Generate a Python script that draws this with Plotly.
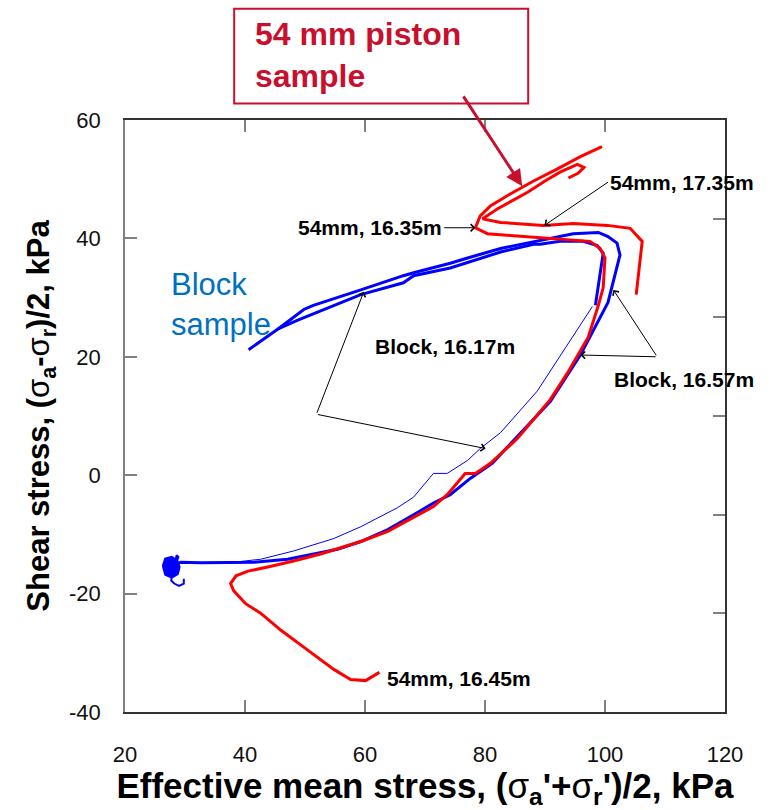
import plotly.graph_objects as go

# ---------------- data ----------------
# 54 mm piston sample, 16.45 m path (continues round the 16.35 m loop)
red_a_x = [62.4, 60.1, 57.6, 54.8, 50.4, 46.0, 42.6, 40.1, 38.1, 37.6, 38.5, 40.5, 43.8, 48.1,
           52.6, 59.3, 63.8, 68.1, 71.4, 73.7, 76.7, 78.4, 80.9, 85.4, 90.9, 93.7, 97.2, 98.9,
           99.7, 100.0, 99.2, 97.5, 94.7, 89.7, 84.2, 80.4, 78.4, 79.2, 80.9, 84.2, 88.1, 92.0,
           95.9, 99.5]
red_a_y = [-33.3, -34.7, -34.5, -32.8, -29.5, -26.2, -23.3, -21.7, -19.5, -18.3, -17.0, -16.2,
           -15.5, -14.5, -13.3, -11.2, -9.5, -7.2, -5.3, -3.3, 0.3, 0.3, 2.0, 6.2, 12.8, 17.2,
           23.3, 28.7, 31.7, 36.7, 38.3, 39.5, 39.7, 40.0, 40.5, 40.8, 41.8, 43.8, 45.5, 47.5,
           49.7, 51.7, 53.8, 55.5]

# 54 mm piston sample, 17.35 m path
red_b_x = [105.2, 106.2, 104.2, 100.4, 94.7, 89.7, 82.6, 79.6, 82.1, 87.1, 90.0, 92.5, 95.4,
           96.5, 95.5, 93.9]
red_b_y = [30.5, 39.5, 41.7, 42.2, 42.5, 42.2, 42.7, 43.3, 45.0, 47.8, 49.7, 51.2, 52.5,
           52.0, 51.0, 50.2]

# Block sample, 16.57 m (thick path)
blue_a_x = [28.6, 29.3, 32.6, 35.5, 38.1, 41.5, 47.1, 51.4, 55.4, 59.3, 63.8, 68.1, 71.4, 74.2,
            77.6, 81.2, 84.7, 90.9, 95.9, 99.5, 100.5, 102.5, 102.0, 100.5, 98.9, 94.7, 89.2,
            82.6, 77.1, 74.2, 68.1, 66.4, 59.3, 51.4, 49.8, 45.5, 40.6]
blue_a_y = [-15.0, -14.7, -14.8, -14.8, -14.7, -14.7, -14.2, -13.3, -12.5, -11.2, -9.2, -6.7,
            -4.7, -3.3, -0.5, 2.0, 5.8, 12.5, 20.3, 27.2, 29.2, 37.2, 39.2, 40.3, 41.0, 40.8,
            39.7, 38.3, 36.7, 35.8, 34.2, 33.7, 31.3, 28.7, 28.0, 24.7, 21.2]

# Block sample, 16.17 m (thin lower part, then thick upper part)
blue_b_thin_x = [38.1, 42.6, 48.1, 54.8, 59.3, 65.4, 68.1, 71.4, 73.7, 77.1, 79.2, 82.6, 88.7, 97.9]
blue_b_thin_y = [-14.7, -14.2, -12.8, -10.7, -8.7, -5.5, -3.7, 0.3, 0.3, 2.5, 4.5, 7.2, 14.2, 28.5]
blue_b_x = [98.4, 99.7, 98.7, 96.4, 92.5, 89.2, 88.1, 82.6, 74.2, 68.1, 66.4, 59.3, 48.8, 45.5]
blue_b_y = [28.7, 37.5, 38.8, 39.5, 39.5, 39.0, 39.0, 37.7, 35.0, 33.7, 32.5, 30.5, 26.2, 24.7]

# scribble at the start of the block tests
blob_x = [26.3, 26.7, 27.8, 28.7, 29.1, 28.8, 27.8, 26.7, 26.3]
blob_y = [-15.3, -14.1, -13.8, -14.4, -15.5, -16.7, -17.3, -16.8, -15.3]
blob_tail_x = [28.4, 28.6, 28.9, 28.6, 27.9, 27.7, 28.2, 29.0, 29.8, 29.8]
blob_tail_y = [-14.5, -13.5, -13.8, -14.6, -16.5, -17.8, -18.3, -18.7, -18.3, -17.5]

x_ticks = [20, 40, 60, 80, 100, 120]
y_ticks = [-40, -20, 0, 20, 40, 60]
y_tick_text = ["-40", "-20", "0", "20", "40", "60"]

RED = "rgb(255,0,0)"
BLUE = "rgb(0,0,255)"
CRIMSON = "#C8102E"
TEXT_BLUE = "#0070C0"
FONT = "Liberation Sans, Arial, sans-serif"

fig = go.Figure()

line_kw = dict(mode="lines", hoverinfo="skip", showlegend=False)
fig.add_trace(go.Scatter(x=blob_x, y=blob_y, fill="toself", fillcolor=BLUE,
                         line=dict(color=BLUE, width=2), **line_kw))
fig.add_trace(go.Scatter(x=blob_tail_x, y=blob_tail_y, line=dict(color=BLUE, width=2), **line_kw))
fig.add_trace(go.Scatter(x=blue_b_thin_x, y=blue_b_thin_y, line=dict(color=BLUE, width=1), **line_kw))
fig.add_trace(go.Scatter(x=blue_b_x, y=blue_b_y, line=dict(color=BLUE, width=3), **line_kw))
fig.add_trace(go.Scatter(x=blue_a_x, y=blue_a_y, line=dict(color=BLUE, width=3), **line_kw))
fig.add_trace(go.Scatter(x=red_a_x, y=red_a_y, line=dict(color=RED, width=3), **line_kw))
fig.add_trace(go.Scatter(x=red_b_x, y=red_b_y, line=dict(color=RED, width=3), **line_kw))
# carrier trace for the right-hand tick axis
fig.add_trace(go.Scatter(x=[None], y=[None], yaxis="y2", **line_kw))

sig = '<span style="font-weight:normal">σ</span>'
ytitle = f"Shear stress, ({sig}<sub>a</sub>-{sig}<sub>r</sub>)/2, kPa"
xtitle = f"Effective mean stress, ({sig}<sub>a</sub>'+{sig}<sub>r</sub>')/2, kPa"

AX = "#333333"
TK = "#808080"
fig.update_layout(
    width=772, height=810,
    margin=dict(l=125, r=47, t=120, b=90, pad=0),
    paper_bgcolor="white", plot_bgcolor="white",
    showlegend=False,
    font=dict(family=FONT, color="black"),
    xaxis=dict(range=[20, 120], tickvals=x_ticks, ticks="inside", ticklen=12, tickcolor=TK,
               tickwidth=1.5, showline=True, linecolor=AX, linewidth=1.5, mirror="ticks",
               showgrid=False, zeroline=False, ticklabelstandoff=22,
               tickfont=dict(size=22, color="#111111"),
               title=dict(text=xtitle, standoff=6,
                          font=dict(size=35, weight="bold", color="black"))),
    yaxis=dict(range=[-40, 60], tickvals=y_ticks, ticktext=y_tick_text, ticks="inside",
               ticklen=12, tickcolor=TK,
               tickwidth=1.5, showline=True, linecolor=TK, linewidth=1.5, mirror=False,
               showgrid=False, zeroline=False, ticklabelstandoff=18,
               tickfont=dict(size=22, color="#111111"),
               title=dict(text=ytitle, standoff=10,
                          font=dict(size=31, weight="bold", color="black"))),
    yaxis2=dict(range=[0, 6], dtick=1, overlaying="y", side="right", ticks="inside",
                ticklen=12, tickcolor=TK, tickwidth=1.5, showline=True, linecolor=AX,
                linewidth=1.5, showticklabels=False, showgrid=False, zeroline=False),
)

# red box around the "54 mm piston sample" label
fig.add_shape(type="rect", xref="paper", yref="paper", x0=0.182, x1=0.672, y0=1.028, y1=1.188,
              line=dict(color=CRIMSON, width=2), fillcolor="rgba(0,0,0,0)")

arrow_kw = dict(xref="x", yref="y", axref="x", ayref="y", showarrow=True)
ann = []
# "54 mm piston sample" with its thick arrow (arrow leaves the text's lower right corner)
ann.append(dict(x=86.2, y=48.8, ax=76.4, ay=64.0, xanchor="right", yanchor="bottom",
                text="54 mm piston<br>sample", align="left",
                font=dict(size=32, color=CRIMSON, weight="bold", family=FONT),
                arrowhead=2, arrowsize=1.1, arrowwidth=3, arrowcolor=CRIMSON, **arrow_kw))
ann.append(dict(x=27.3, y=28.8, xref="x", yref="y", xanchor="left", yanchor="middle",
                text="Block<br>sample", align="left", showarrow=False,
                font=dict(size=31, color=TEXT_BLUE, family=FONT)))

lab_font = dict(size=21, color="black", weight="bold", family=FONT)
small_arrow = dict(arrowhead=4, arrowsize=1.4, arrowwidth=1, arrowcolor="black")
# labels whose arrow starts at the text
ann.append(dict(x=78.4, y=41.8, ax=73.2, ay=41.8, xanchor="right", yanchor="middle",
                text="54mm, 16.35m", font=lab_font, **small_arrow, **arrow_kw))
ann.append(dict(x=89.9, y=42.2, ax=100.5, ay=49.5, xanchor="left", yanchor="middle",
                text="54mm, 17.35m", font=lab_font, **small_arrow, **arrow_kw))
# plain labels
labels = [("Block, 16.17m", 61.3, 21.7), ("Block, 16.57m", 101.2, 16.2),
          ("54mm, 16.45m", 63.3, -34.3)]
for t, x, y in labels:
    ann.append(dict(x=x, y=y, xref="x", yref="y", xanchor="left", yanchor="middle", text=t,
                    showarrow=False, font=lab_font))

# V-shaped leader pairs for the block labels
arrows = [((101.4, 31.3), (108.7, 20.0)),
          ((95.9, 20.3), (108.7, 20.0)),
          ((59.8, 31.0), (51.9, 10.3)),
          ((80.1, 4.5), (51.9, 10.3))]
for (hx, hy), (tx, ty) in arrows:
    ann.append(dict(x=hx, y=hy, ax=tx, ay=ty, text="", **small_arrow, **arrow_kw))
fig.update_layout(annotations=ann)

fig.write_html("out.html")
